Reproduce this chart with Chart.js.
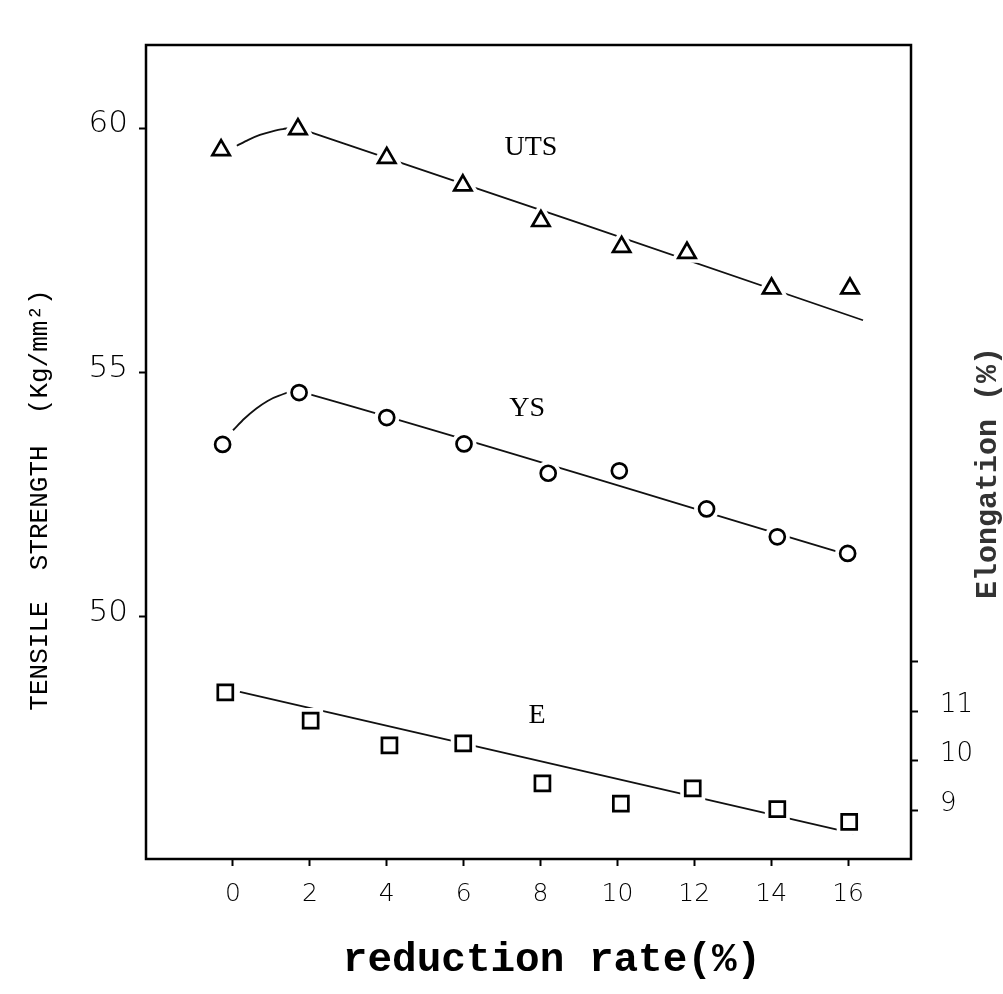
<!DOCTYPE html>
<html><head><meta charset="utf-8">
<script src="https://cdn.jsdelivr.net/npm/chart.js@4.4.1/dist/chart.umd.min.js"></script>
<style>html,body{margin:0;padding:0;background:#fff;}#wrap{width:1003px;height:994px;}</style>
</head><body><div id="wrap"><canvas id="c" width="1003" height="994"></canvas></div>
<script>
// ---- data ----
const xTicks = [0, 2, 4, 6, 8, 10, 12, 14, 16];
const leftTicks = [50, 55, 60];
const rightTicks = [9, 10, 11, 12];
const rightLabelled = [9, 10, 11];

const utsX = [-0.31, 1.69, 4.0, 5.98, 8.01, 10.11, 11.81, 14.01, 16.05];
const utsY = [59.55, 59.98, 59.39, 58.83, 58.10, 57.57, 57.45, 56.72, 56.72];
const ysX = [-0.27, 1.72, 4.0, 6.01, 8.2, 10.05, 12.32, 14.16, 15.99];
const ysY = [53.53, 54.59, 54.08, 53.54, 52.94, 52.99, 52.21, 51.64, 51.30];
const eX = [-0.2, 2.02, 4.07, 5.99, 8.05, 10.09, 11.96, 14.16, 16.03];
const eY = [11.38, 10.81, 10.31, 10.35, 9.54, 9.13, 9.44, 9.02, 8.76];

const utsFitX = [0.1, 0.4, 0.7, 1.0, 1.3, 1.7, 16.39];
const utsFitY = [59.64, 59.76, 59.86, 59.93, 59.98, 60.0, 56.07];
const ysFitX = [0.0, 0.3, 0.6, 0.9, 1.2, 1.7, 15.88];
const ysFitY = [53.82, 54.06, 54.26, 54.42, 54.53, 54.62, 51.30];
const eFitX = [0.18, 16.14];
const eFitY = [11.39, 8.53];

const seriesLabels = ['UTS', 'YS', 'E'];
const seriesLabelX = [7.75, 7.65, 7.91];
const seriesLabelY = [59.61, 54.27, 10.92];
const seriesLabelAxis = ['y', 'y', 'y2'];

const xTitle = 'reduction rate(%)';
const yTitle = 'TENSILE  STRENGTH  (Kg/mm\u00B2)';
const y2Title = 'Elongation (%)';

// ---- helpers ----
const pts = (xs, ys) => xs.map((x, i) => ({x: x, y: ys[i]}));
const INK = '#111';

function fitSet(xs, ys, axis, tension) {
  return {data: pts(xs, ys), yAxisID: axis, showLine: true, borderColor: INK,
    borderWidth: 1.8, pointRadius: 0, tension: tension, order: 5};
}
function haloSet(xs, ys, axis, style, r) {
  return {data: pts(xs, ys), yAxisID: axis, showLine: false, pointStyle: style,
    pointRadius: r, pointBorderWidth: 10, pointBorderColor: '#fff',
    pointBackgroundColor: '#fff', order: 3};
}
function markSet(xs, ys, axis, style, r) {
  return {data: pts(xs, ys), yAxisID: axis, showLine: false, pointStyle: style,
    pointRadius: r, pointBorderWidth: 2.7, pointBorderColor: '#000',
    pointBackgroundColor: '#fff', order: 1};
}

const annot = {
  id: 'annot',
  afterDraw(chart) {
    const {ctx, chartArea: a, scales} = chart;
    ctx.save();
    ctx.strokeStyle = '#000';
    ctx.lineWidth = 2.5;
    ctx.strokeRect(a.left, a.top, a.right - a.left, a.bottom - a.top);
    ctx.fillStyle = '#000';
    ctx.textAlign = 'center';
    ctx.textBaseline = 'middle';
    // series labels
    ctx.font = '28px "Liberation Serif"';
    seriesLabels.forEach((t, i) => {
      ctx.fillText(t, scales.x.getPixelForValue(seriesLabelX[i]),
        scales[seriesLabelAxis[i]].getPixelForValue(seriesLabelY[i]));
    });
    // x title
    ctx.font = 'bold 41px "Liberation Mono"';
    ctx.fillText(xTitle, 552, 961);
    // left title
    ctx.save();
    ctx.translate(40, 500);
    ctx.rotate(-Math.PI / 2);
    ctx.font = '26px "Liberation Mono"';
    ctx.fillText(yTitle, 0, 0);
    ctx.restore();
    // right title
    ctx.save();
    ctx.translate(988, 473);
    ctx.rotate(-Math.PI / 2);
    ctx.font = 'bold 30px "Liberation Mono"';
    ctx.fillStyle = '#333';
    ctx.fillText(y2Title, 0, 0);
    ctx.restore();
    ctx.restore();
  }
};

const tickFont = {family: '"DejaVu Sans"', weight: '200'};

new Chart(document.getElementById('c'), {
  type: 'scatter',
  data: {
    datasets: [
      fitSet(utsFitX, utsFitY, 'y', 0.3),
      fitSet(ysFitX, ysFitY, 'y', 0.3),
      fitSet(eFitX, eFitY, 'y2', 0),
      haloSet(utsX, utsY, 'y', 'triangle', 10),
      haloSet(ysX, ysY, 'y', 'circle', 7.5),
      haloSet(eX, eY, 'y2', 'rect', 10.6),
      markSet(utsX, utsY, 'y', 'triangle', 10),
      markSet(ysX, ysY, 'y', 'circle', 7.5),
      markSet(eX, eY, 'y2', 'rect', 10.6)
    ]
  },
  options: {
    responsive: false,
    devicePixelRatio: 1,
    animation: false,
    layout: {padding: {top: 45, left: 0, right: 0, bottom: 0}},
    plugins: {legend: {display: false}, tooltip: {enabled: false}},
    scales: {
      x: {
        type: 'linear', min: -2.263, max: 17.638,
        afterBuildTicks: s => { s.ticks = xTicks.map(v => ({value: v})); },
        afterFit: s => { s.height = 135; },
        border: {display: false},
        grid: {drawOnChartArea: false, tickLength: 7, tickColor: '#000', tickWidth: 2},
        ticks: {color: '#000', padding: 13, font: Object.assign({size: 25}, tickFont), maxRotation: 0}
      },
      y: {
        type: 'linear', position: 'left', min: 45.05, max: 61.70,
        afterBuildTicks: s => { s.ticks = leftTicks.map(v => ({value: v})); },
        afterFit: s => { s.width = 146; },
        border: {display: false},
        grid: {drawOnChartArea: false, tickLength: 7, tickColor: '#000', tickWidth: 2},
        ticks: {color: '#000', padding: 11, labelOffset: -4, font: Object.assign({size: 31}, tickFont)}
      },
      y2: {
        type: 'linear', position: 'right', min: 8.01, max: 24.48,
        afterBuildTicks: s => { s.ticks = rightTicks.map(v => ({value: v})); },
        afterFit: s => { s.width = 92; },
        border: {display: false},
        grid: {drawOnChartArea: false, tickLength: 7, tickColor: '#000', tickWidth: 2},
        ticks: {color: '#000', padding: 22, labelOffset: -6,
          font: Object.assign({size: 26}, tickFont),
          callback: v => rightLabelled.includes(v) ? String(v) : ''}
      }
    }
  },
  plugins: [annot]
});
</script></body></html>
